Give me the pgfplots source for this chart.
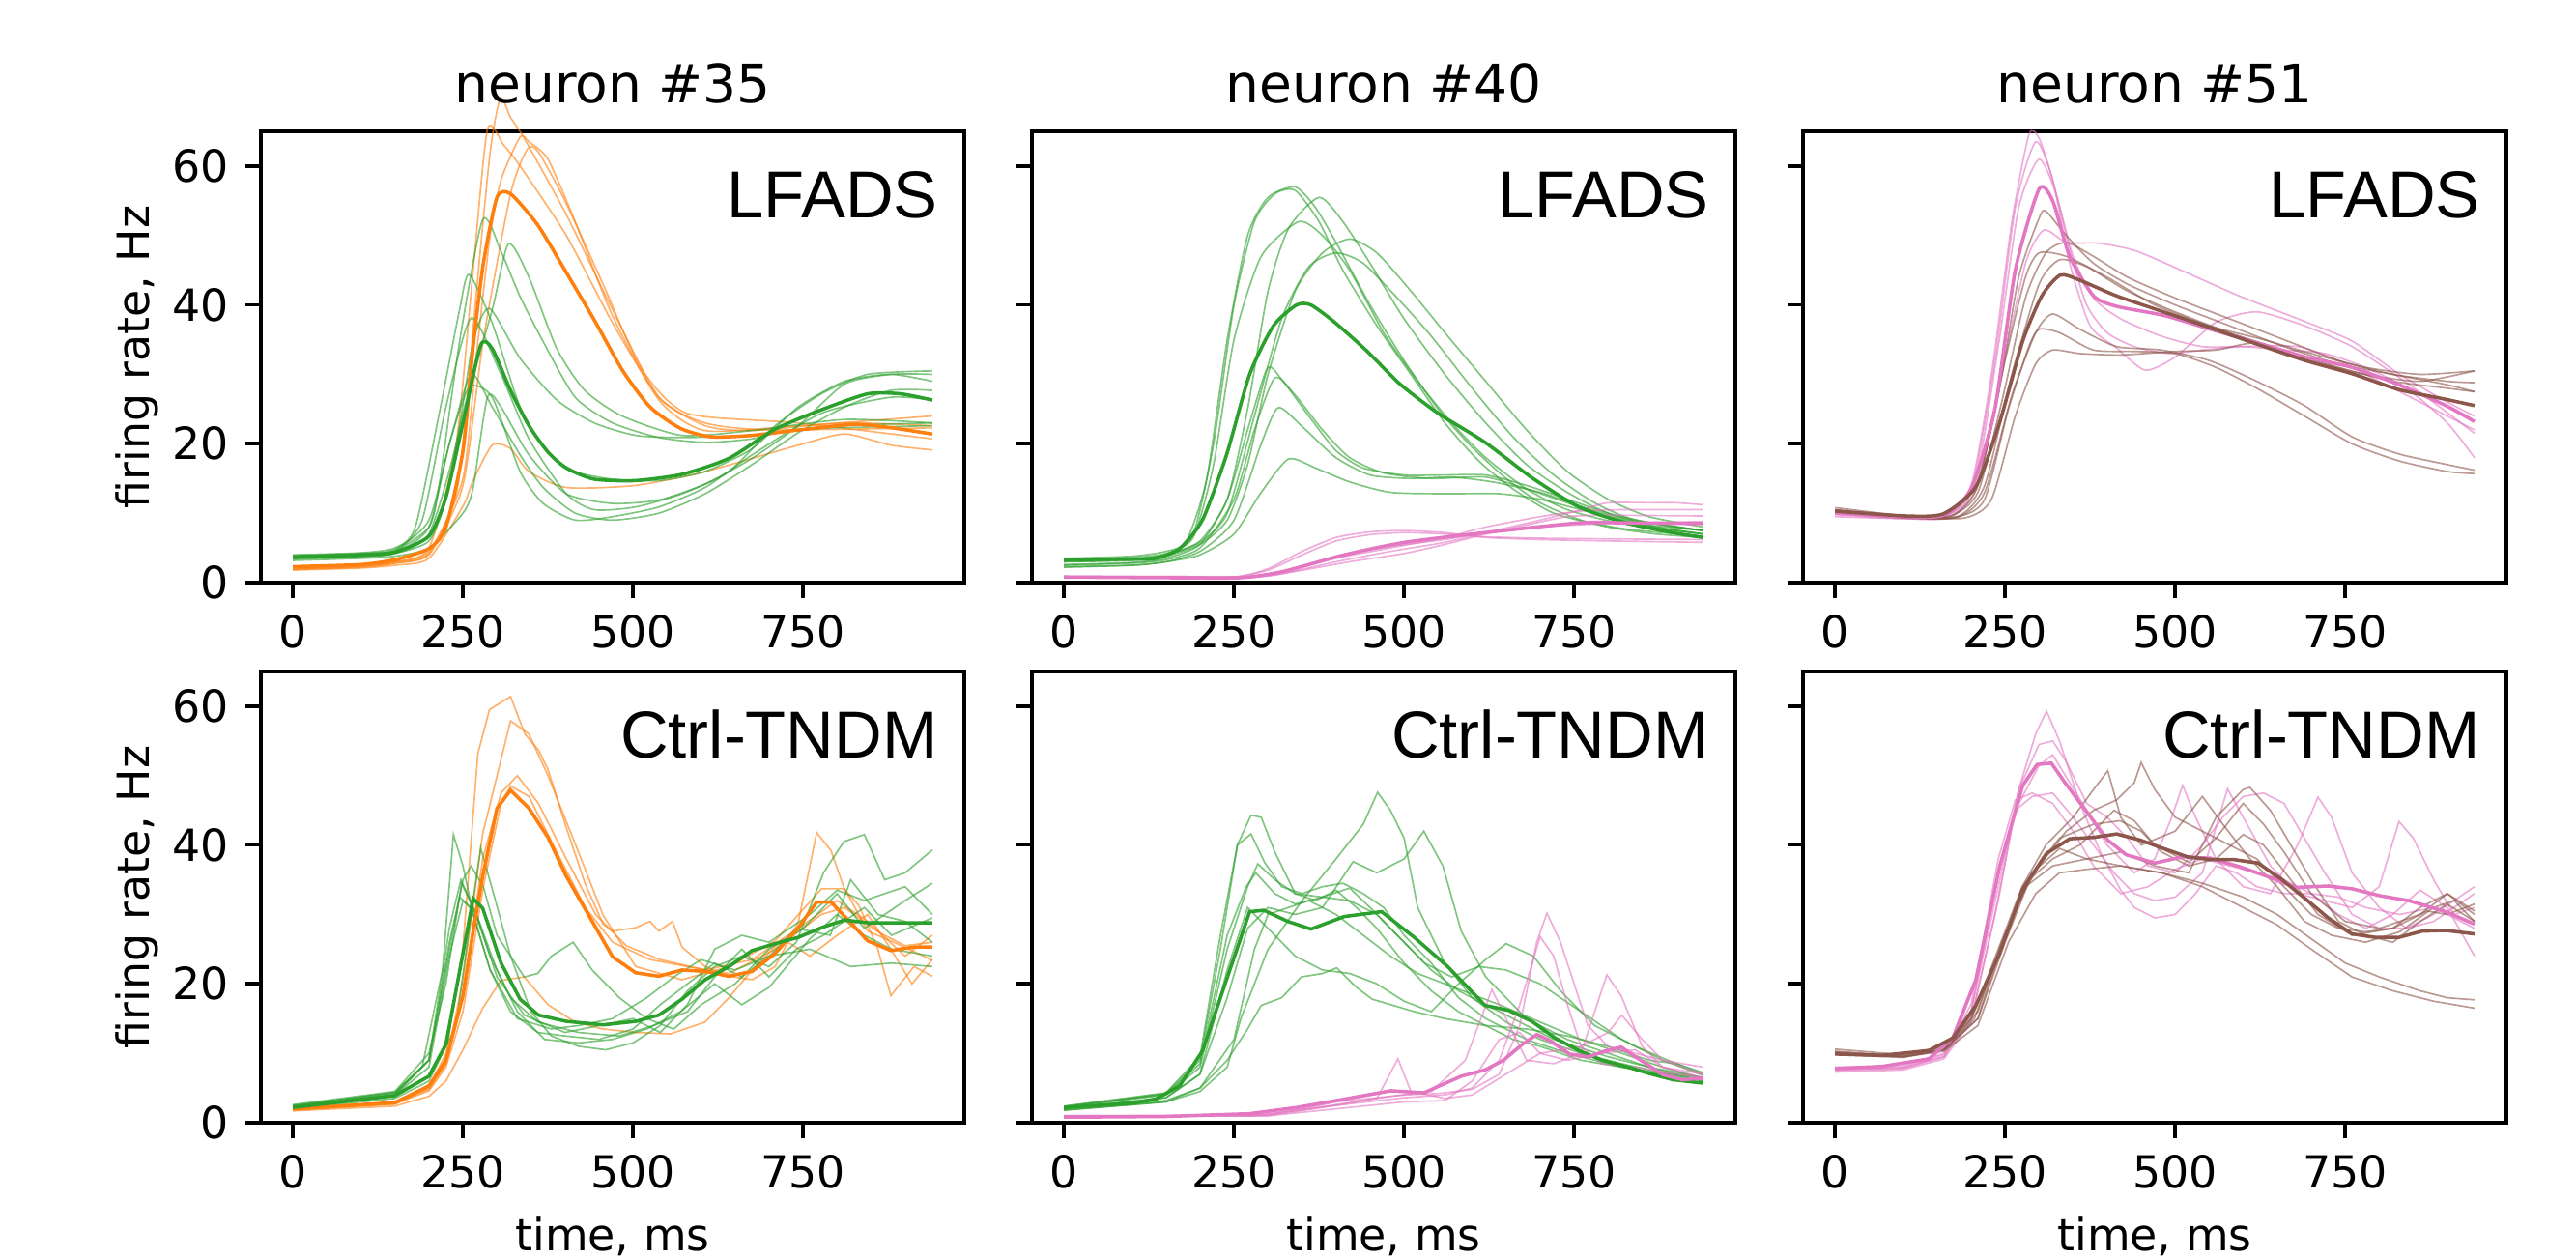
\documentclass[border=0pt]{standalone}
\usepackage{fontspec}
\setmainfont{DejaVu Sans}
\newfontfamily\arialfont{Liberation Sans}
\usepackage{pgfplots}
\pgfplotsset{compat=1.18}
\definecolor{cO}{HTML}{FF7F0E}
\definecolor{cG}{HTML}{2CA02C}
\definecolor{cP}{HTML}{E377C2}
\definecolor{cB}{HTML}{8C564B}
\pgfplotsset{
  panel/.style={
    scale only axis, width=174.72pt, height=112.08pt, anchor=south west,
    xmin=-47, xmax=987, ymin=0, ymax=65, clip=false, no markers,
    xtick={0,250,500,750}, ytick={0,20,40,60},
    tick pos=left, tick align=outside, major tick length=3.85pt,
    axis line style={line width=0.88pt},
    every tick/.style={black, line width=0.88pt},
    tick label style={font=\fontsize{11}{13}\selectfont},
    /pgf/number format/assume math mode=true,
    xticklabel style={anchor=base, inner sep=0pt, yshift=-12.3pt},
    yticklabel style={anchor=east, inner sep=0pt, xshift=-3.9pt},
    every axis title/.style={at={(0.5,1)}, anchor=base, yshift=7pt, font=\fontsize{13.2}{15}\selectfont},
    every axis x label/.style={at={(axis description cs:0.5,0)}, anchor=base, yshift=-31.7pt, font=\fontsize{11}{13}\selectfont},
    every axis y label/.style={at={([xshift=-27.8pt]axis description cs:0,0.5)}, anchor=base, rotate=90, font=\fontsize{11}{13}\selectfont},
  },
  smoothed/.style={every axis plot/.append style={smooth, tension=0.4}},
  tO/.style={cO, line width=0.4pt, opacity=0.6},
  tG/.style={cG, line width=0.4pt, opacity=0.6},
  tP/.style={cP, line width=0.4pt, opacity=0.6},
  tB/.style={cB, line width=0.4pt, opacity=0.6},
  mO/.style={cO, line width=0.85pt},
  mG/.style={cG, line width=0.85pt},
  mP/.style={cP, line width=0.85pt},
  mB/.style={cB, line width=0.85pt},
}
\newcommand{\model}[1]{\node[anchor=base east, inner sep=0pt, font=\arialfont\fontsize{16.5}{19}\selectfont] at ([xshift=-6.4pt,yshift=-21.6pt]rel axis cs:1,1) {#1};}

\begin{document}
\begin{tikzpicture}
\path[use as bounding box] (0,0) rectangle (639.84pt,312.48pt);

% neuron 35, LFADS
\begin{axis}[panel, smoothed, at={(64.8pt,167.76pt)}, title={neuron \#35}, ylabel={firing rate, Hz}]
\addplot[tO] coordinates {(0,2)(100,2.4)(150,3)(200,5)(240,20)(265,45)(286,65.3)(310,63)(334,60)(402,50)(470,37.4)(538,26.7)(606,22.6)(675,21.9)(811,23)(940,22.6)};
\addplot[tO] coordinates {(0,1.9)(100,2.2)(150,2.8)(200,4)(238,12)(250,20)(270,42)(290,62)(305,69.8)(320,67)(340,64)(402,53)(470,39.3)(538,26.7)(606,23)(700,22)(940,22.3)};
\addplot[tO] coordinates {(0,2.2)(100,2.5)(150,3)(200,4.5)(250,15)(270,33)(290,50)(306,58)(334,64.2)(347,63.5)(375,61)(415,52)(470,38.4)(538,26.3)(606,21.9)(743,22.6)(940,24)};
\addplot[tO] coordinates {(0,2)(100,2.3)(150,2.8)(200,4.2)(250,14)(280,35)(320,56)(345,62.5)(361,62)(400,55)(456,43)(511,31)(579,24.4)(743,23)(940,20.7)};
\addplot[tO] coordinates {(0,1.8)(100,2.1)(150,2.5)(200,3.5)(250,11)(265,14.7)(293,19.8)(320,19.3)(347,16)(402,13.7)(504,14)(606,16)(743,19.8)(811,21.4)(879,19.8)(940,19.1)};
\addplot[tG] coordinates {(0,3.8)(100,4.1)(150,4.6)(200,8)(215,14)(245,34.7)(279,52.3)(306,47.7)(334,41.2)(368,34.7)(415,26.7)(470,23)(538,20.9)(606,20.2)(675,20.7)(743,22.1)(940,22.6)};
\addplot[tG] coordinates {(0,3.5)(100,3.8)(150,4.2)(200,6)(225,12)(250,24.4)(293,39.3)(317,48.8)(347,44)(388,33.7)(429,27.7)(484,24)(572,21.2)(675,21.9)(811,23.5)(940,23)};
\addplot[tG] coordinates {(0,4)(100,4.3)(150,5)(180,8)(217,25.3)(245,39.3)(259,44.4)(293,37.4)(334,25.3)(375,18.8)(415,16)(470,14.9)(538,14.7)(606,16)(675,19.3)(743,25.3)(811,29)(879,30)(940,29)};
\addplot[tG] coordinates {(0,3.6)(100,3.9)(150,4.5)(190,9)(225,25.3)(262,38.1)(306,30)(347,20.7)(402,12.8)(443,10.5)(504,10.9)(572,12.8)(641,16)(709,22.6)(777,27.2)(845,30)(940,30.5)};
\addplot[tG] coordinates {(0,3.4)(100,3.7)(150,4.2)(200,7)(240,20)(265,34.7)(289,39.5)(334,32.3)(388,26.3)(443,23)(504,21.2)(572,20.9)(675,21.2)(811,22.6)(940,23)};
\addplot[tG] coordinates {(0,3.9)(100,4.2)(150,4.8)(200,9)(232,20.7)(262,30)(293,25.3)(334,18.4)(368,13.7)(415,10)(470,9)(538,10)(606,12.8)(675,17)(743,21.6)(811,25.3)(879,27.7)(940,27.7)};
\addplot[tG] coordinates {(0,3.5)(100,3.8)(150,4.3)(200,8)(230,20)(259,28.1)(293,26.7)(334,16)(368,11.4)(415,9)(470,9.5)(538,10.9)(606,13.7)(675,18.4)(777,24.4)(879,26.7)(940,26.3)};
\addplot[tG] coordinates {(0,3.2)(100,3.5)(150,3.8)(200,5)(250,10)(265,13.7)(286,26.7)(306,25.3)(347,18.4)(402,12.8)(470,11.4)(538,11.9)(606,14.2)(675,17.9)(743,22.6)(811,28.6)(879,30)(940,30)};
\addplot[mO] coordinates {(0,2.3)(100,2.6)(150,3.3)(200,4.9)(225,8)(250,19)(265,34)(280,46)(300,55.5)(320,56)(360,51.5)(400,45)(445,37.5)(485,30.5)(525,25.3)(570,22.2)(615,21)(675,21.2)(745,22)(825,22.8)(880,22.3)(940,21.4)};
\addplot[mG] coordinates {(0,3.7)(100,4)(150,4.4)(200,6.7)(225,12.3)(250,23)(276,34.2)(293,33.7)(320,27.7)(347,22.6)(375,18.8)(402,16.5)(443,14.9)(504,14.7)(572,15.6)(641,17.9)(709,22.1)(777,24.9)(845,27.2)(893,27.2)(940,26.3)};
\model{LFADS}
\end{axis}

% neuron 40, LFADS
\begin{axis}[panel, smoothed, at={(256.32pt,167.76pt)}, title={neuron \#40}, yticklabels={}]
\addplot[tG] coordinates {(0,3.5)(100,3.8)(150,4.5)(180,6)(210,15)(240,35)(270,50)(300,55.5)(340,57)(370,54)(400,49)(450,40)(500,32)(550,25)(600,19.5)(650,15)(700,11.5)(760,9)(820,7.8)(880,7.2)(940,6.7)};
\addplot[tG] coordinates {(0,3)(100,3.3)(150,4)(190,7)(220,20)(250,40)(280,52)(310,56)(340,56.5)(375,52)(410,45)(460,37)(510,30)(560,23)(610,17.5)(660,13.5)(720,10)(800,8)(870,7)(940,6.5)};
\addplot[tG] coordinates {(0,3.2)(100,3.4)(150,4)(200,6)(240,12)(270,25)(300,42)(330,51)(375,55.5)(410,52)(450,46)(500,38)(560,30)(620,23)(680,17)(740,13)(800,10)(870,8.5)(940,7.5)};
\addplot[tG] coordinates {(0,3.3)(100,3.6)(150,4.2)(190,6.5)(220,17)(250,35)(290,47)(345,52)(380,50)(420,45)(470,36)(520,29)(570,23)(620,18)(680,13.5)(740,10.5)(820,8.5)(940,7)};
\addplot[tG] coordinates {(0,3)(100,3.2)(150,3.8)(200,5.5)(240,9)(270,17)(300,30)(340,42)(380,47.5)(420,49.5)(460,47.5)(510,42)(560,36)(620,29)(680,22)(740,16)(800,12)(860,9.5)(940,8)};
\addplot[tG] coordinates {(0,3.2)(100,3.4)(150,4)(200,5.8)(240,10)(280,24)(320,38)(360,45.5)(400,47.5)(440,46)(490,41)(540,35.5)(600,28)(660,21)(720,15.5)(780,11.5)(840,9)(940,7.5)};
\addplot[tG] coordinates {(0,2.6)(100,2.9)(150,3.5)(200,5.5)(240,12)(270,22)(295,30)(305,31)(330,28)(360,24)(400,19)(440,16.5)(500,15.5)(560,15.5)(620,15.5)(680,14)(740,12)(800,10)(870,8)(940,7)};
\addplot[tG] coordinates {(0,2.5)(100,2.8)(150,3.3)(200,5)(250,12)(280,22)(310,29.5)(340,27)(380,22)(420,18)(470,15.8)(540,15)(620,15.2)(680,13.5)(740,11.5)(800,9.5)(870,8)(940,7)};
\addplot[tG] coordinates {(0,2.2)(100,2.5)(150,3)(200,4.5)(250,9)(290,20)(315,25.2)(350,22.5)(400,18)(450,15.5)(510,15)(570,15.2)(630,14.5)(700,13)(760,11)(830,9)(940,7.5)};
\addplot[tG] coordinates {(0,2.3)(100,2.5)(150,3)(200,4)(250,7)(290,13)(330,17.8)(370,16.5)(420,14.5)(480,13)(560,12.8)(640,12.8)(700,12)(760,10.5)(840,8.5)(940,7.5)};
\addplot[tP] coordinates {(0,0.8)(150,0.8)(250,0.8)(300,2)(350,4.5)(400,6.5)(450,7.3)(500,7.5)(560,7.2)(620,6.5)(700,6.2)(800,6)(940,5.8)};
\addplot[tP] coordinates {(0,0.8)(150,0.8)(250,0.8)(300,1.8)(350,4)(400,6)(450,6.9)(500,7.2)(560,7)(620,6.6)(700,6.4)(800,6.3)(940,6.2)};
\addplot[tP] coordinates {(0,0.8)(150,0.8)(280,0.8)(330,1.5)(400,3)(480,4.5)(560,5.8)(620,7.2)(700,9)(760,10.5)(800,11.5)(860,11.5)(900,11.5)(940,11.2)};
\addplot[tP] coordinates {(0,0.7)(150,0.7)(280,0.8)(330,1.8)(400,3.5)(480,5)(560,6.5)(620,8)(700,9.5)(760,10.3)(820,10.5)(940,10.5)};
\addplot[tP] coordinates {(0,0.9)(150,0.9)(290,0.9)(340,1.6)(420,3)(500,4.2)(560,5.5)(620,7)(680,8.3)(740,9.5)(800,9.7)(940,9.6)};
\addplot[tP] coordinates {(0,0.8)(150,0.8)(280,0.8)(340,2)(400,3.8)(480,5.2)(560,6.2)(620,7.2)(700,8)(800,8.5)(940,8.8)};
\addplot[mG] coordinates {(0,3.3)(100,3.4)(135,3.5)(170,4.9)(204,9.1)(239,18.4)(273,30)(308,37)(342,40)(363,40)(398,37.5)(446,33.3)(494,28.6)(550,24.4)(619,20.2)(688,15.1)(757,10.9)(826,8.6)(895,7.2)(940,6.5)};
\addplot[mP] coordinates {(0,0.8)(150,0.7)(260,0.7)(322,1.6)(412,4)(501,5.8)(619,7.2)(757,8.6)(826,8.6)(940,8.5)};
\model{LFADS}
\end{axis}

% neuron 51, LFADS
\begin{axis}[panel, smoothed, at={(447.84pt,167.76pt)}, title={neuron \#51}, yticklabels={}]
\addplot[tP] coordinates {(0,9.5)(104,9.2)(159,9.5)(200,14)(230,30)(260,52)(285,64.5)(300,64)(320,58)(345,48)(370,40)(400,36)(440,34)(490,33)(540,33.5)(600,34)(680,34)(740,32)(800,29)(860,26)(900,24)(940,22)};
\addplot[tP] coordinates {(0,10)(104,9.3)(159,9.5)(200,13)(235,32)(265,54)(295,63.5)(320,58)(345,46)(375,37)(414,33.8)(456,30.6)(500,32.5)(560,37.5)(620,39)(690,37)(760,34)(830,29.5)(900,24.5)(940,21.5)};
\addplot[tP] coordinates {(0,10.3)(104,9.5)(159,9.4)(205,14)(240,34)(270,54)(300,61)(325,56)(350,47)(380,41)(420,38)(480,35.5)(540,34)(600,34)(660,33.5)(720,33)(780,31)(840,28)(900,23)(940,18)};
\addplot[tP] coordinates {(0,9.8)(104,9.2)(170,9.4)(210,14)(245,30)(280,46)(307,50.8)(340,49)(387,48.9)(442,47.8)(518,44.6)(594,41.3)(691,37.6)(760,34.8)(830,30)(900,26)(940,24)};
\addplot[tB] coordinates {(0,10.8)(104,9.6)(159,9.5)(207,14)(240,27)(270,44)(300,52.5)(310,53.5)(340,50)(380,46)(430,43)(500,40)(580,37)(660,34)(740,31.5)(820,30)(900,28.5)(940,27.5)};
\addplot[tB] coordinates {(0,10.5)(104,9.4)(170,9.6)(210,13)(245,26)(280,41)(310,47.5)(340,49)(380,47)(430,44)(500,41)(580,38)(660,35)(740,32)(820,30)(900,29)(940,28.8)};
\addplot[tB] coordinates {(0,10)(104,9.5)(170,9.6)(210,14)(250,32)(280,44)(300,47.5)(340,47)(400,44)(470,40)(550,37)(630,35)(700,33)(780,31)(860,30)(940,30.5)};
\addplot[tB] coordinates {(0,10.2)(104,9.4)(180,9.5)(220,14)(260,30)(300,43)(330,46.5)(370,45.5)(430,42)(500,39)(580,36)(660,33.5)(740,31)(820,29)(900,28)(940,27.5)};
\addplot[tB] coordinates {(0,10)(104,9.3)(180,9.4)(220,13)(260,27)(295,36)(320,38.7)(360,36.5)(414,34)(480,33.5)(550,32)(620,29)(690,25.5)(760,21)(830,18.5)(900,17)(940,16.2)};
\addplot[tB] coordinates {(0,10.5)(104,9.6)(180,9.5)(220,12)(255,25)(285,34)(300,36.5)(330,36)(380,33.5)(440,33.3)(500,33)(560,31)(620,28)(690,24)(760,20)(830,17.5)(900,16)(940,15.7)};
\addplot[tB] coordinates {(0,10)(104,9.5)(190,9.3)(230,12)(265,24)(295,31.5)(320,33.5)(360,33)(420,32.8)(500,33.3)(560,33.5)(620,34.5)(700,32)(780,30)(860,29)(940,30.5)};
\addplot[mP] coordinates {(0,10)(104,9.5)(159,9.7)(200,13.5)(235,25)(265,45)(300,56.7)(320,55)(345,47)(380,41.3)(414,39.8)(483,38.5)(552,36.5)(622,34.5)(691,32.5)(760,31)(829,28.5)(898,25.5)(940,23.2)};
\addplot[mB] coordinates {(0,10.3)(104,9.6)(159,9.9)(207,13.8)(242,23.1)(276,34.8)(304,41.3)(331,44.3)(359,43.6)(414,41.3)(483,39)(552,36.7)(622,34.3)(691,32)(760,30.1)(829,27.8)(898,26.4)(940,25.5)};
\model{LFADS}
\end{axis}

% neuron 35, Ctrl-TNDM
\begin{axis}[panel, at={(64.8pt,33.6pt)}, xlabel={time, ms}, ylabel={firing rate, Hz}]
\addplot[tO] coordinates {(0,1.8)(150,2.7)(200,5.3)(225,9.9)(250,25.3)(272,53.2)(289,59.5)(320,61.4)(341,56)(361,53.7)(375,50.9)(402,42.5)(429,34.6)(456,28.6)(470,27.6)(504,28.1)(525,29)(538,27.6)(558,29)(572,25.3)(606,22.5)(641,21.1)(675,20.6)(709,22.5)(743,28.9)(770,41.8)(791,39.2)(811,33.6)(832,31.3)(859,25.3)(879,18.3)(913,22.5)(940,21.1)};
\addplot[tO] coordinates {(0,2)(150,2.8)(200,4.8)(225,8.5)(250,20.6)(279,41.6)(320,57.9)(347,56)(375,50)(415,40.2)(456,29.9)(504,22.5)(572,20.6)(641,22.5)(709,26.2)(777,33.7)(811,33.7)(845,27.6)(879,26.2)(940,23.4)};
\addplot[tO] coordinates {(0,2.1)(150,2.9)(200,5)(225,8.5)(250,18)(279,38)(306,47.5)(330,50)(361,46)(402,38)(445,30)(490,25.5)(540,23.5)(606,22)(675,23.5)(743,28)(800,32)(845,29)(900,24)(940,27)};
\addplot[tO] coordinates {(0,1.9)(150,2.7)(200,4.6)(225,8)(250,16)(280,34)(306,46)(320,48.5)(347,47)(388,39)(430,31)(470,26)(525,23.5)(580,22.5)(641,21.5)(709,25)(777,30)(811,31)(860,27.5)(900,25.5)(940,26)};
\addplot[tO] coordinates {(0,1.7)(150,2.4)(200,3.8)(225,6)(250,10.5)(279,16.5)(306,20.5)(340,21)(375,17)(415,14.5)(456,13.5)(504,13)(555,12.8)(606,14.5)(641,18)(675,22)(720,26.5)(760,24)(800,27)(845,30)(879,25)(910,20)(940,23.5)};
\addplot[tG] coordinates {(0,2.5)(150,4.3)(190,8)(220,22)(236,41.5)(250,37)(265,30)(290,22)(320,16)(360,13)(400,12.5)(450,12)(500,13.5)(540,17)(580,20)(620,23)(660,21)(700,24)(740,28)(790,27)(820,35)(860,30)(900,29)(940,26)};
\addplot[tG] coordinates {(0,2.4)(150,4)(200,9)(230,25)(250,35)(262,37)(280,34)(300,27)(340,21)(360,21.5)(380,24)(412,26)(440,22)(480,18)(520,15)(560,13.5)(600,17)(650,20)(700,25)(750,28)(800,33)(840,28)(900,32)(940,34.5)};
\addplot[tG] coordinates {(0,2)(150,3.5)(200,6)(240,14)(262,30)(276,39.6)(295,33)(320,24)(350,16)(380,12.5)(420,11)(460,10.5)(500,11.5)(540,14)(580,19)(620,22.5)(660,24)(700,22.5)(740,26)(780,36)(810,40.5)(840,41.5)(870,35)(900,36)(940,39.3)};
\addplot[tG] coordinates {(0,2.6)(150,4.5)(200,10)(225,20)(248,34.5)(270,30)(300,22)(330,16)(370,12)(420,11.5)(470,12)(520,13.5)(570,16)(620,20)(660,17)(700,19.5)(760,26.5)(800,30)(840,27)(880,25)(940,24)};
\addplot[tG] coordinates {(0,2.2)(150,4)(200,8)(230,24)(250,32)(270,30)(300,21)(340,15.5)(400,13)(450,14)(500,15)(540,13)(580,17)(620,25)(660,27)(700,26)(760,30)(800,33.5)(840,32)(900,34)(940,30)};
\addplot[tG] coordinates {(0,2.3)(150,4.2)(200,9)(230,26)(245,32.5)(262,31)(290,22)(330,15)(380,13.5)(420,14)(470,15)(520,18)(560,21)(600,23.5)(650,22)(700,24)(760,25)(820,22.5)(880,23)(940,22.5)};
\addplot[tG] coordinates {(0,2.4)(150,4.4)(200,9)(230,28)(247,35)(265,31)(290,24)(320,18)(360,14.5)(420,13)(480,12.5)(530,14)(580,16)(620,21)(660,25)(700,21)(740,25)(780,27)(840,31)(880,27)(940,29.5)};
\addplot[mO] coordinates {(0,2)(150,2.9)(200,5.3)(225,9)(250,18.3)(265,27.6)(279,35.5)(300,45.3)(320,47.9)(347,45.3)(375,41.1)(402,35.5)(429,30.9)(470,23.9)(504,21.6)(538,21.1)(572,22)(606,21.8)(641,21.1)(675,21.8)(709,24.4)(743,28.1)(770,31.8)(791,31.8)(818,29)(845,26.2)(879,24.8)(913,25.3)(940,25.3)};
\addplot[mG] coordinates {(0,2.2)(150,3.9)(200,6.7)(225,11.3)(250,24.4)(265,32.3)(279,30.9)(306,23)(334,17.8)(361,15.5)(402,14.6)(456,14.1)(504,14.6)(538,15.5)(572,17.8)(606,20.6)(641,22.5)(675,24.8)(709,25.8)(743,26.7)(777,28.1)(811,29.2)(845,28.8)(879,28.8)(940,28.8)};
\model{Ctrl-TNDM}
\end{axis}

% neuron 40, Ctrl-TNDM
\begin{axis}[panel, at={(256.32pt,33.6pt)}, xlabel={time, ms}, yticklabels={}]
\addplot[tG] coordinates {(0,2.3)(150,4.2)(200,9)(230,25)(255,40)(275,44.3)(290,44)(310,39)(340,33)(370,32)(400,33.5)(430,31)(460,28)(500,23)(540,19)(580,16)(620,14)(660,12)(700,11)(760,9)(820,8)(880,7)(940,6)};
\addplot[tG] coordinates {(0,1.8)(150,3)(200,4.5)(240,8)(260,15)(300,25)(350,32)(400,38)(440,43)(461,47.6)(480,45)(500,41)(520,31)(560,23)(600,18)(650,14.5)(700,12)(760,10)(820,8.5)(880,7.2)(940,6.5)};
\addplot[tG] coordinates {(0,2.1)(150,3.6)(200,7)(240,18)(270,28)(300,31)(340,30)(380,31)(425,37.6)(460,36)(500,38)(529,42)(557,37)(584,27.6)(620,21)(680,15)(740,12)(800,10)(860,8)(940,6.5)};
\addplot[tG] coordinates {(0,2.4)(150,4.3)(200,9.5)(230,27)(255,40)(275,41.6)(295,37.5)(320,34)(350,33)(380,34)(410,34.5)(440,33)(470,31)(500,27)(540,23)(580,18)(620,15)(680,12)(740,10)(820,8)(940,6.2)};
\addplot[tG] coordinates {(0,2.2)(150,4)(200,8)(240,25)(270,34)(285,37.3)(310,35)(340,33)(380,32.5)(420,32)(460,30)(500,26)(540,22)(580,19)(620,17)(660,15)(720,12)(800,9.5)(940,6)};
\addplot[tG] coordinates {(0,2.3)(150,4.1)(200,8.5)(240,27)(268,34)(282,36)(310,33)(340,31.5)(380,32.5)(420,33.8)(450,31)(490,27)(530,23)(570,21)(610,22.5)(650,22)(700,20)(760,16)(820,12)(880,9)(940,6.8)};
\addplot[tG] coordinates {(0,2)(150,3.6)(200,7)(240,22)(270,31)(300,28)(340,24)(380,22)(420,21.5)(460,20)(500,17.5)(540,16)(580,20)(620,23.5)(650,25.8)(690,24)(730,19)(780,14)(840,11)(900,8.5)(940,7.2)};
\addplot[tG] coordinates {(0,1.8)(150,3)(200,5)(250,12)(280,25)(300,30)(330,31)(360,32)(400,30)(440,27)(480,24)(520,21.5)(560,20)(600,18.5)(640,17)(700,14.5)(760,12)(820,10)(880,8)(940,6.3)};
\addplot[tG] coordinates {(0,1.9)(150,3.2)(200,5)(240,9)(270,13.5)(290,16.9)(320,18)(349,21)(380,21.5)(401,22.3)(430,19.5)(453,17.8)(515,16)(560,15)(620,14)(680,13.5)(740,12.5)(800,11)(860,9)(900,8.5)(940,7)};
\addplot[tP] coordinates {(0,1)(150,1)(280,1)(350,2)(400,3)(450,3.5)(500,4)(550,4.2)(600,4.8)(640,7)(670,14)(695,26)(710,30.2)(730,26)(750,20)(770,14)(800,11)(840,10)(880,9)(940,8)};
\addplot[tP] coordinates {(0,0.9)(150,0.9)(300,1.2)(400,2.5)(500,3.6)(560,4)(600,5)(640,9)(670,17)(700,26.8)(720,24)(740,17)(760,11)(790,8.5)(840,8)(900,7)(940,6.5)};
\addplot[tP] coordinates {(0,1)(150,1)(300,1.2)(400,2.6)(480,3.8)(540,4.5)(590,9)(629,19.2)(650,15)(680,9)(720,8.5)(760,10)(798,21.3)(819,18.3)(850,11)(880,8)(940,6.5)};
\addplot[tP] coordinates {(0,1)(150,1)(300,1)(400,2.5)(460,3.5)(491,9.2)(510,4.5)(560,3.5)(600,4)(650,7)(700,10)(760,11)(800,13)(820,15.5)(850,12)(880,9)(940,7)};
\addplot[tP] coordinates {(0,0.9)(150,0.9)(300,1)(400,2)(500,3)(560,3.2)(600,6)(640,12)(670,13)(700,10)(740,9)(790,10)(840,10.5)(880,8)(940,7)};
\addplot[mG] coordinates {(0,2.2)(100,2.8)(135,3.4)(170,5.3)(204,10.4)(239,20.6)(273,30.4)(294,30.6)(329,29)(363,27.9)(412,29.7)(467,30.4)(515,26.7)(564,22.5)(619,16.9)(653,16.2)(688,14.6)(722,12.2)(757,10.4)(791,9)(826,8.1)(860,7.1)(895,6.2)(940,5.7)};
\addplot[mP] coordinates {(0,0.8)(150,0.9)(273,1.3)(343,2.2)(412,3.4)(481,4.6)(529,4.3)(584,6.7)(619,7.6)(646,9)(674,11.3)(695,12.7)(715,11.8)(743,9.9)(771,9.5)(798,10.4)(819,10.9)(840,9.5)(881,6.9)(909,6.2)(940,6.4)};
\model{Ctrl-TNDM}
\end{axis}

% neuron 51, Ctrl-TNDM
\begin{axis}[panel, at={(447.84pt,33.6pt)}, xlabel={time, ms}, yticklabels={}]
\addplot[tP] coordinates {(0,7.5)(100,7.8)(160,9.5)(200,15)(240,32)(270,48)(295,56)(311,59.3)(330,55)(360,46)(390,39)(420,33.5)(440,31)(470,29.5)(500,30)(530,33)(560,37)(590,36)(620,34)(660,33)(700,33)(740,32.5)(780,31)(830,30)(880,31)(940,28)};
\addplot[tP] coordinates {(0,7.8)(100,8)(160,9.8)(200,16)(240,34)(270,48)(300,54.5)(320,55)(340,52)(370,46)(400,44)(430,41)(460,37)(500,36)(540,40)(570,44)(600,47)(630,47.5)(660,46)(690,41)(720,36)(760,30)(800,28)(840,28)(880,30)(940,34)};
\addplot[tP] coordinates {(0,7.3)(100,7.6)(160,9.2)(200,14.5)(235,30)(265,45)(300,51.5)(320,53)(345,49)(370,45)(400,40)(440,36)(470,38)(495,44)(511,48.6)(530,44)(560,38)(600,34)(640,33)(680,40)(710,46.9)(730,44)(760,36)(800,31)(840,28)(880,29)(940,33)};
\addplot[tP] coordinates {(0,7.6)(100,7.9)(160,9.5)(200,16)(240,36)(265,45)(290,47)(320,47.5)(350,44)(380,40)(410,36)(440,33)(470,32)(500,32.5)(540,36)(577,48.1)(600,44)(640,37)(680,33)(720,32)(760,31)(800,34)(829,43.4)(850,41)(880,35)(910,30)(940,31)};
\addplot[tP] coordinates {(0,8)(100,8.2)(160,10)(200,17)(240,38)(265,46.5)(290,47.5)(320,46)(350,42)(380,37)(420,33)(460,34)(500,36.5)(540,38)(580,37)(620,36)(660,35)(700,33)(740,30)(780,28)(820,30)(860,33.5)(900,31)(940,24)};
\addplot[tB] coordinates {(0,10.6)(100,9.8)(160,11)(200,15)(240,24)(270,32)(300,37)(340,42)(380,45)(414,46.5)(440,49)(450,51.9)(470,48)(500,44)(540,42)(580,40)(620,38)(660,34)(700,30)(740,28)(780,27.5)(820,28)(860,31)(900,33)(940,30)};
\addplot[tB] coordinates {(0,10.2)(100,9.6)(160,10.8)(205,16)(240,25)(275,34)(310,40)(350,44)(380,48)(401,50.7)(420,44)(450,40)(500,42)(540,47)(570,43)(610,38)(650,34)(690,29)(730,27)(780,26)(830,27.5)(880,31)(910,32)(940,29)};
\addplot[tB] coordinates {(0,10)(100,9.5)(160,10.5)(205,15)(245,26)(280,34)(320,37)(370,38)(420,39)(470,37)(520,36)(560,44)(600,48)(610,48.3)(640,45)(670,40)(700,35)(740,29)(780,27)(820,26)(860,29)(900,31.5)(940,29)};
\addplot[tB] coordinates {(0,9.8)(100,9.4)(160,10.5)(210,16)(250,27)(285,35)(320,38)(360,40)(410,45)(440,43.5)(470,40)(520,37.5)(560,41)(600,46)(630,43)(660,39)(700,33)(750,29)(800,28)(860,30)(900,33)(940,30.5)};
\addplot[tB] coordinates {(0,10.3)(100,9.6)(160,10.5)(210,15)(250,27)(290,36)(330,39.5)(370,38)(420,37)(480,36)(540,34.5)(600,32.5)(650,30)(700,26.5)(750,23)(800,21)(860,19)(900,18)(940,17.7)};
\addplot[tB] coordinates {(0,10)(100,9.5)(160,10.3)(210,14)(255,26)(295,33)(330,36)(370,36.5)(420,37)(480,36)(540,34)(600,31)(650,28.5)(700,25)(760,21)(820,19)(880,17.5)(940,16.5)};
\addplot[tB] coordinates {(0,10)(100,9.5)(160,10.5)(210,15)(250,26)(290,36)(330,41)(380,43)(419,43.5)(450,42)(480,39)(520,37)(560,38)(600,41.5)(630,40)(670,35)(710,30)(760,27)(820,28)(870,30.5)(900,30)(940,31.5)};
\addplot[mP] coordinates {(0,7.8)(69,8.1)(138,9.2)(173,12.2)(207,20.6)(242,36.9)(276,48.6)(297,51.6)(318,51.8)(338,49)(373,44.4)(401,40.7)(428,38.6)(470,37.4)(511,38.3)(552,38.1)(594,36.9)(635,35.5)(677,33.9)(725,34.1)(760,33.7)(801,32.7)(843,32)(898,30.4)(940,28.6)};
\addplot[mB] coordinates {(0,9.9)(69,9.7)(138,10.4)(173,12.2)(207,16.9)(242,24.4)(276,33.7)(311,38.8)(345,40.9)(380,41.1)(414,41.6)(449,40.7)(483,39.5)(518,38.3)(552,37.9)(587,37.9)(622,37.4)(656,35.1)(691,32.3)(725,29.5)(760,27.2)(794,26.7)(829,26.7)(863,27.6)(898,27.7)(940,27.2)};
\model{Ctrl-TNDM}
\end{axis}
\end{tikzpicture}
\end{document}
